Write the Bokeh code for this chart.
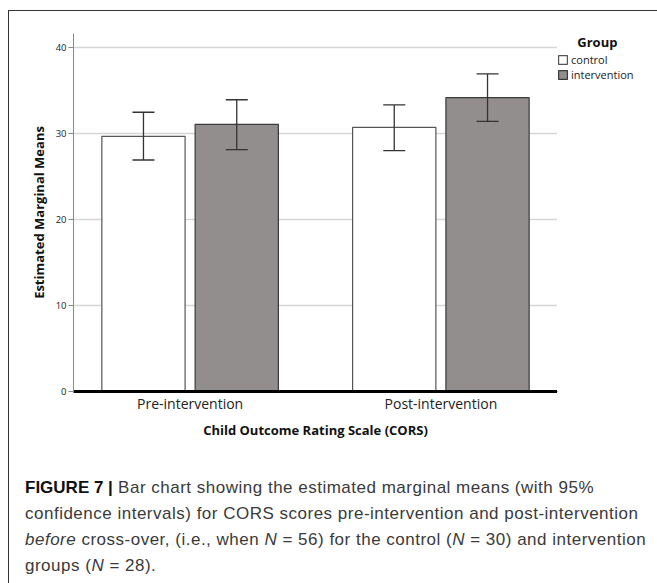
from bokeh.plotting import figure
from bokeh.models import (ColumnDataSource, FactorRange, Range1d, Whisker, TeeHead,
                          Legend, LegendItem, FixedTicker, Div)
from bokeh.transform import dodge
from bokeh.layouts import column, row
from bokeh.embed import file_html
from bokeh.resources import INLINE

# ---- data ----
categories = ["Pre-intervention", "Post-intervention"]
groups = ["control", "intervention"]
control_mean = [29.65, 30.7]
control_lower = [26.9, 28.0]
control_upper = [32.45, 33.3]
intervention_mean = [31.05, 34.15]
intervention_lower = [28.1, 31.4]
intervention_upper = [33.9, 36.9]
y_ticks = [0, 10, 20, 30, 40]

x_title = "Child Outcome Rating Scale (CORS)"
y_title = "Estimated Marginal Means"
legend_title = "Group"

src = ColumnDataSource(dict(
    cat=categories,
    c_mean=control_mean, c_lo=control_lower, c_hi=control_upper,
    i_mean=intervention_mean, i_lo=intervention_lower, i_hi=intervention_upper,
))

FONT = "Open Sans"
GRAY = "#928e8d"
C_LINE = "#555555"
I_LINE = "#3a3a3a"

p = figure(x_range=FactorRange(*categories, range_padding=-0.035,
                               range_padding_units="absolute"),
           y_range=Range1d(0, 41.6),
           width=548, height=433, title=None,
           min_border_left=64, min_border_top=14, min_border_right=0,
           min_border_bottom=53,
           output_backend="svg", toolbar_location=None)

p.outline_line_color = None
p.background_fill_color = "white"
p.border_fill_color = "white"

off = 0.186
bw = 0.332
r_c = p.vbar(x=dodge("cat", -off, range=p.x_range), top="c_mean", width=bw, source=src,
             fill_color="white", line_color=C_LINE, line_width=1.2)
r_i = p.vbar(x=dodge("cat", off, range=p.x_range), top="i_mean", width=bw, source=src,
             fill_color=GRAY, line_color=I_LINE, line_width=1.2)

for col, lo, hi in ((-off, "c_lo", "c_hi"), (off, "i_lo", "i_hi")):
    w = Whisker(source=src, base=dodge("cat", col, range=p.x_range), lower=lo, upper=hi,
                line_color="#333333", line_width=1.3, level="overlay",
                upper_head=TeeHead(size=22, line_color="#333333", line_width=1.3),
                lower_head=TeeHead(size=22, line_color="#333333", line_width=1.3))
    p.add_layout(w)

# grid
p.xgrid.grid_line_color = None
p.ygrid.grid_line_color = "#d6d6d6"
p.ygrid.grid_line_width = 1.5
p.ygrid.ticker = FixedTicker(ticks=y_ticks)

# y axis
p.yaxis.ticker = FixedTicker(ticks=y_ticks)
p.yaxis.axis_line_color = "#8a8a8a"
p.yaxis.axis_line_width = 1
p.yaxis.major_tick_line_color = "#8a8a8a"
p.yaxis.major_tick_out = 5
p.yaxis.major_tick_in = 0
p.yaxis.minor_tick_line_color = None
p.yaxis.minor_tick_out = 0
p.yaxis.major_label_text_font = FONT
p.yaxis.major_label_text_font_size = "9.5px"
p.yaxis.major_label_text_color = "#222222"
p.yaxis.major_label_standoff = 2
p.yaxis.axis_label = y_title
p.yaxis.axis_label_text_font = FONT
p.yaxis.axis_label_text_font_style = "bold"
p.yaxis.axis_label_text_font_size = "13px"
p.yaxis.axis_label_text_color = "#111111"
p.yaxis.axis_label_standoff = 5

# x axis
p.xaxis.axis_line_color = "black"
p.xaxis.axis_line_width = 3
p.xaxis.major_tick_line_color = None
p.xaxis.major_tick_out = 0
p.xaxis.major_tick_in = 0
p.xaxis.minor_tick_line_color = None
p.xaxis.minor_tick_out = 0
p.xaxis.major_label_text_font = FONT
p.xaxis.major_label_text_font_size = "14px"
p.xaxis.major_label_text_color = "#222222"
p.xaxis.major_label_standoff = 2
p.xaxis.axis_label = x_title
p.xaxis.axis_label_text_font = FONT
p.xaxis.axis_label_text_font_style = "bold"
p.xaxis.axis_label_text_font_size = "13px"
p.xaxis.axis_label_text_color = "#111111"
p.xaxis.axis_label_standoff = 5

# legend panel (a small companion figure to the right of the plot area)
lf = figure(width=92, height=433, x_range=Range1d(0, 1), y_range=Range1d(0, 1),
            min_border_left=0, min_border_right=0, min_border_top=22, min_border_bottom=0,
            x_axis_type=None, y_axis_type=None, title=None,
            output_backend="svg", toolbar_location=None)
lf.outline_line_color = None
lf.xgrid.grid_line_color = None
lf.ygrid.grid_line_color = None
lf.border_fill_color = "white"
# legend swatches only: one placeholder bar each, lying outside the visible range
swatch = ColumnDataSource(dict(x=[-5.0], top=[-5.0]))
lg_c = lf.vbar(x="x", top="top", width=0.1, source=swatch,
               fill_color="white", line_color=C_LINE, line_width=1.2)
lg_i = lf.vbar(x="x", top="top", width=0.1, source=swatch,
               fill_color=GRAY, line_color=I_LINE, line_width=1.2)

NBSP = "\u00a0"
legend = Legend(items=[LegendItem(label=groups[0], renderers=[lg_c]),
                       LegendItem(label=groups[1], renderers=[lg_i])],
                title=NBSP * 6 + legend_title,
                title_text_font=FONT, title_text_font_style="bold",
                title_text_font_size="13px", title_text_color="#111111",
                title_standoff=1,
                location="top_left", orientation="vertical",
                glyph_width=11, glyph_height=11, label_height=13, label_standoff=3,
                spacing=0, padding=1, margin=0,
                border_line_color=None, background_fill_alpha=0,
                label_text_font=FONT, label_text_font_size="11px",
                label_text_line_height=0.85,
                label_text_color="#222222")
lf.add_layout(legend)

caption_html = (
    '<div style="font-family: \'Liberation Sans\', Arial, sans-serif; font-size: 17px; '
    'letter-spacing: 0.5px; line-height: 26px; color: #3a3a3a; white-space: nowrap;">'
    '<b style="color:#111; letter-spacing:0px">FIGURE 7 |</b> Bar chart showing the estimated marginal means (with 95%<br>'
    'confidence intervals) for CORS scores pre-intervention and post-intervention<br>'
    '<i>before</i> cross-over, (i.e., when <i>N</i> = 56) for the control (<i>N</i> = 30) and intervention<br>'
    'groups (<i>N</i> = 28).'
    '</div>'
)
cap = Div(text=caption_html, width=640, height=130,
          styles={"padding-left": "11px", "padding-top": "26px", "overflow": "visible"})

layout = column(row(p, lf, spacing=0), cap, spacing=0,
                styles={"border-left": "1.5px solid #333333",
                        "border-top": "1.5px solid #333333",
                        "margin-top": "10px", "margin-left": "8px"})

open("out.html", "w").write(file_html(layout, INLINE))
